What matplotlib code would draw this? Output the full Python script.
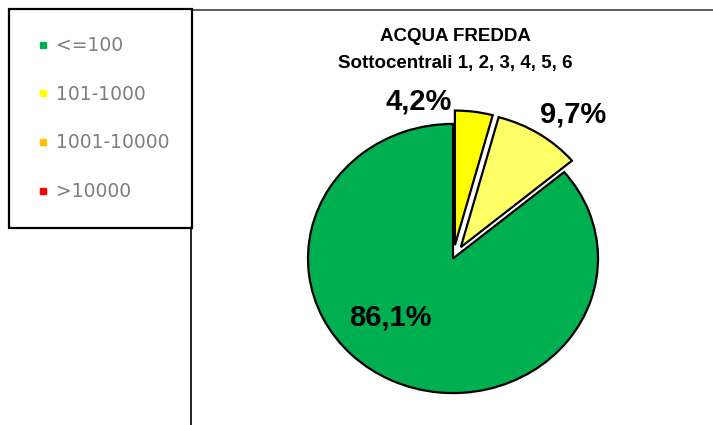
import matplotlib.pyplot as plt
from matplotlib.lines import Line2D

# legend classes
classes = ['<=100', '101-1000', '1001-10000', '>10000']
class_colors = ['#00B050', '#FFFF00', '#FFC000', '#FF0000']

# pie slices (clockwise from 12 o'clock)
shares = [4.2, 9.7, 86.1]
share_labels = ['4,2%', '9,7%', '86,1%']
share_colors = ['#FFFF00', '#FFFF66', '#00B050']

title = 'ACQUA FREDDA\nSottocentrali 1, 2, 3, 4, 5, 6'

W, H = 713, 425
fig = plt.figure(figsize=(W / 100, H / 100), dpi=100)

# pie axes, stretched a bit horizontally like the original
ax = fig.add_axes([279 / W, 1 - 420 / H, 348 / W, 323 / H])
ax.pie(shares, colors=share_colors, startangle=90, counterclock=False,
       explode=[0.1, 0.1, 0.0], radius=1.0,
       wedgeprops=dict(edgecolor='black', linewidth=1.6))
ax.set_aspect('auto')
ax.set_xlim(-1.2, 1.2)
ax.set_ylim(-1.2, 1.2)
ax.axis('off')

label_xy = [(-0.24, 1.17), (0.83, 1.07), (-0.43, -0.44)]
for txt, (lx, ly) in zip(share_labels, label_xy):
    ax.text(lx, ly, txt, ha='center', va='center', fontsize=21,
            fontweight='bold', family='Liberation Sans', color='black')

fig.text(455 / W, 1 - 50 / H, title, ha='center', va='center',
         fontsize=13.5, fontweight='bold', family='Liberation Sans',
         linespacing=1.75)

# chart area border lines
fig.add_artist(Line2D([191 / W, 191 / W], [1 - 10 / H, 0], color='black',
                      lw=1.2, transform=fig.transFigure))
fig.add_artist(Line2D([191 / W, 1], [1 - 10 / H, 1 - 10 / H], color='#404040',
                      lw=1.2, transform=fig.transFigure))

handles = [Line2D([], [], marker='s', linestyle='none', markersize=5,
                  markerfacecolor=c, markeredgecolor=c) for c in class_colors]
leg = fig.legend(handles, classes, loc='upper left',
                 bbox_to_anchor=(9 / W, 1 - 228 / H, 183 / W, 219 / H),
                 mode='expand', frameon=True, fancybox=False, shadow=False,
                 borderaxespad=0, borderpad=1.45, labelspacing=1.58,
                 handlelength=0.72, handletextpad=0.34,
                 prop=dict(family='DejaVu Sans', size=13.5))
for t in leg.get_texts():
    t.set_color('#7F7F7F')
frame = leg.get_frame()
frame.set_edgecolor('black')
frame.set_linewidth(1.6)
frame.set_alpha(1)

fig.savefig('out.png', dpi=100)
